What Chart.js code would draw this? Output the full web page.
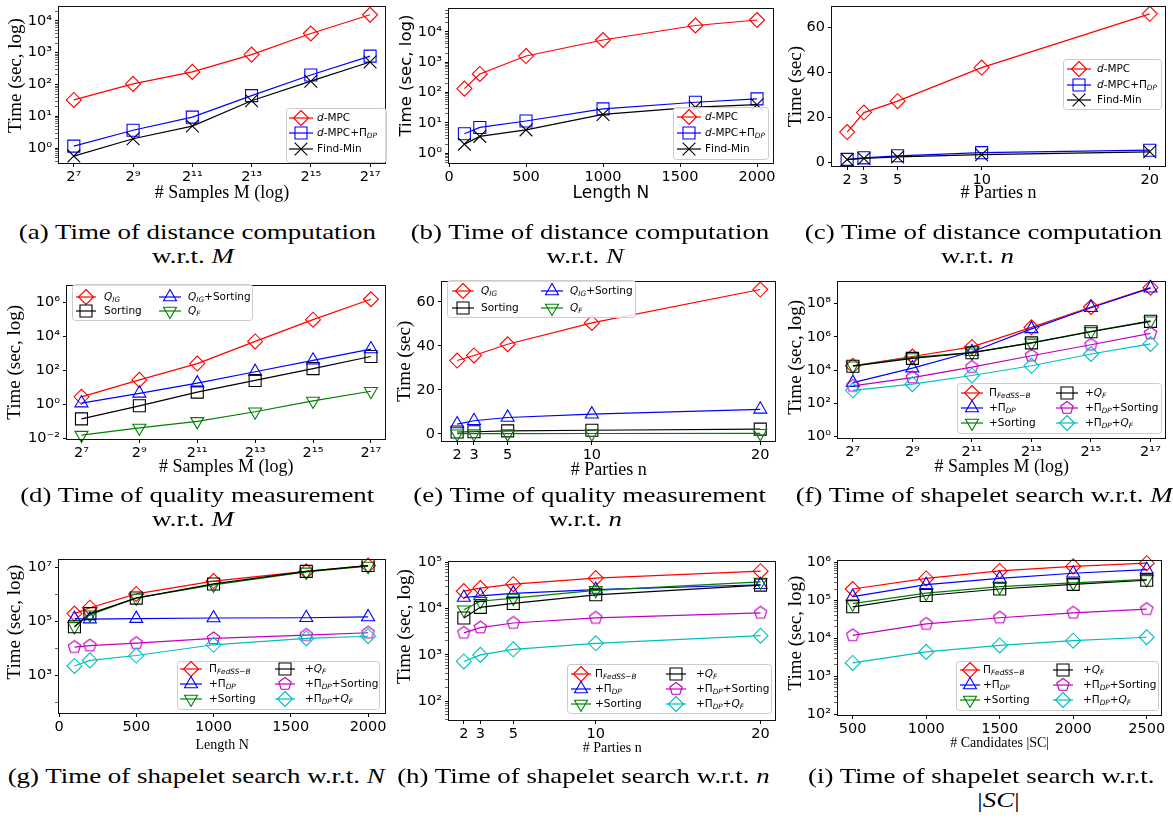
<!DOCTYPE html>
<html><head><meta charset="utf-8">
<script src="https://cdn.jsdelivr.net/npm/chart.js@4.4.1/dist/chart.umd.min.js"></script>
<style>
html,body{margin:0;padding:0;background:#fff}
body{width:1173px;height:825px;position:relative;overflow:hidden}
canvas{position:absolute}
.cap{position:absolute;font-family:"Liberation Serif","Times New Roman",serif;font-size:21px;line-height:24px;white-space:nowrap;color:#000}
</style></head><body>
<script>
// ---------------- data ----------------
const samplesM = [128, 512, 2048, 8192, 32768, 131072];
const samplesMTickLabels = ['2⁷','2⁹','2¹¹','2¹³','2¹⁵','2¹⁷'];
const lengthN = [100, 200, 500, 1000, 1600, 2000];
const lengthTicks = [0, 500, 1000, 1500, 2000];
const partiesN = [2, 3, 5, 10, 20];
const candidatesSC = [500, 1000, 1500, 2000, 2500];

const distSeries = ['$d$-MPC', '$d$-MPC+Π$_{DP}$', 'Find-Min'];
const qualSeries = ['$Q_{IG}$', 'Sorting', '$Q_{IG}$+Sorting', '$Q_F$'];
const searchSeries = ['Π$_{FedSS−B}$', '+Π$_{DP}$', '+Sorting', '+$Q_F$', '+Π$_{DP}$+Sorting', '+Π$_{DP}$+$Q_F$'];

// (a) distance computation vs M
const aDMPC    = [33, 105, 250, 870, 4000, 15500];
const aDMPCDP  = [1.17, 3.7, 9.5, 45, 200, 780];
const aFindMin = [0.57, 2.0, 5.0, 31, 128, 510];
// (b) distance computation vs N
const bDMPC    = [135, 410, 1600, 5400, 16200, 24600];
const bDMPCDP  = [4.4, 7.1, 11.6, 29, 48, 62];
const bFindMin = [2.0, 3.6, 5.9, 19, 33, 40];
// (c) distance computation vs n
const cDMPC    = [13.4, 22.1, 27.2, 42.2, 66.2];
const cDMPCDP  = [1.2, 1.9, 2.8, 4.2, 5.3];
const cFindMin = [1.1, 1.6, 2.3, 3.3, 4.6];
// (d) quality measurement vs M
const dQIG     = [2.8, 28, 257, 5200, 100000, 1600000];
const dSorting = [0.14, 0.83, 5.3, 26, 130, 670];
const dQIGSort = [1.2, 4.5, 18, 85, 400, 1850];
const dQF      = [0.0155, 0.041, 0.1, 0.37, 1.6, 6.0];
// (e) quality measurement vs n
const eQIG     = [33.3, 35.6, 40.7, 50.4, 65.6];
const eSorting = [0.8, 0.9, 1.3, 1.6, 2.1];
const eQIGSort = [4.4, 5.9, 7.4, 8.9, 11.1];
const eQF      = [0.03, 0.04, 0.05, 0.1, 0.2];
// (f) shapelet search vs M
const fFed     = [18000, 65000, 245000, 3.7e6, 6.2e7, 9.0e8];
const fDP      = [1750, 13000, 126000, 3.0e6, 5.6e7, 8.4e8];
const fSort    = [18000, 57000, 110000, 430000, 2.1e6, 9.2e6];
const fQF      = [17000, 50000, 110000, 430000, 2.0e6, 8.5e6];
const fDPSort  = [1100, 3500, 15000, 72000, 330000, 1.6e6];
const fDPQF    = [600, 1400, 4700, 18000, 92000, 370000];
// (g) shapelet search vs N
const gFed     = [2.0e5, 3.3e5, 1.07e6, 3.2e6, 7.3e6, 1.2e7];
const gDP      = [1.3e5, 1.25e5, 1.3e5, 1.37e5, 1.4e5, 1.5e5];
const gSort    = [6.7e4, 1.8e5, 7.6e5, 2.3e6, 7.0e6, 1.15e7];
const gQF      = [6.5e4, 2.0e5, 7.5e5, 2.5e6, 7.3e6, 1.2e7];
const gDPSort  = [1.15e4, 1.3e4, 1.6e4, 2.4e4, 3.2e4, 3.9e4];
const gDPQF    = [2300, 3700, 5600, 1.4e4, 2.4e4, 2.9e4];
// (h) shapelet search vs n
const hFed     = [2.4e4, 2.8e4, 3.4e4, 4.6e4, 6.5e4];
const hDP      = [1.75e4, 1.9e4, 2.15e4, 2.6e4, 3.3e4];
const hSort    = [9.5e3, 1.45e4, 1.7e4, 2.5e4, 3.8e4];
const hQF      = [6.3e3, 1.07e4, 1.3e4, 2.0e4, 3.25e4];
const hDPSort  = [3000, 3900, 4900, 6300, 8100];
const hDPQF    = [720, 1000, 1320, 1780, 2600];
// (i) shapelet search vs |SC|
const iFed     = [2.0e5, 3.8e5, 6.0e5, 7.9e5, 9.6e5];
const iDP      = [1.26e5, 2.6e5, 3.8e5, 5.2e5, 6.5e5];
const iSort    = [8.2e4, 1.55e5, 2.3e5, 2.9e5, 3.6e5];
const iQF      = [6.8e4, 1.35e5, 2.0e5, 2.65e5, 3.4e5];
const iDPSort  = [1.2e4, 2.4e4, 3.5e4, 4.7e4, 5.9e4];
const iDPQF    = [2250, 4400, 6500, 8700, 10700];

// tick values / labels
const logTicks0to4 = [1, 10, 100, 1000, 10000];
const logLabels0to4 = ['10⁰','10¹','10²','10³','10⁴'];
const linTicks60 = [0, 20, 40, 60];
const logTicksD = [0.01, 1, 100, 1e4, 1e6];
const logLabelsD = ['10⁻²','10⁰','10²','10⁴','10⁶'];
const logTicksF = [1, 100, 1e4, 1e6, 1e8];
const logLabelsF = ['10⁰','10²','10⁴','10⁶','10⁸'];
const logTicksG = [1e3, 1e5, 1e7];
const logLabelsG = ['10³','10⁵','10⁷'];
const logTicksH = [100, 1000, 1e4, 1e5];
const logLabelsH = ['10²','10³','10⁴','10⁵'];
const logTicksI = [100, 1000, 1e4, 1e5, 1e6];
const logLabelsI = ['10²','10³','10⁴','10⁵','10⁶'];

// ---------------- styles ----------------
const distStyle = [{c:'#ff0000',m:'rectRot'},{c:'#0000ff',m:'rect'},{c:'#000000',m:'crossRot'}];
const qualStyle = [{c:'#ff0000',m:'rectRot'},{c:'#000000',m:'rect'},{c:'#0000ff',m:'triangle'},{c:'#008000',m:'triDown'}];
const searchStyle = [{c:'#ff0000',m:'rectRot'},{c:'#0000ff',m:'triangle'},{c:'#008000',m:'triDown'},{c:'#000000',m:'rect'},{c:'#bf00bf',m:'pentagon'},{c:'#00bfbf',m:'rectRot'}];
const R = {rectRot:7.5, rect:8.5, crossRot:9, triangle:7.5, triDown:7.5, pentagon:6.5};
const SERIF = '"Liberation Serif","Times New Roman",serif';
const SANS = '"DejaVu Sans",sans-serif';
Chart.defaults.font.family = SANS;

function plain(s){ return s.replace(/\$/g,'').replace(/_\{([^}]*)\}/g,'$1').replace(/_(.)/g,'$1'); }
function pentagonImg(color, r){
  const s = Math.ceil(2*r+4); const cv = document.createElement('canvas'); cv.width=s; cv.height=s;
  const c = cv.getContext('2d'); c.strokeStyle=color; c.lineWidth=1.1; c.beginPath();
  for(let k=0;k<5;k++){ const a=-Math.PI/2+k*2*Math.PI/5; const px=s/2+r*Math.cos(a), py=s/2+r*Math.sin(a); if(k) c.lineTo(px,py); else c.moveTo(px,py);} 
  c.closePath(); c.stroke(); return cv;
}
function drawMarker(c, m, color, x, y){
  const r = R[m]; c.save(); c.strokeStyle=color; c.lineWidth=1.1; c.beginPath();
  if(m==='rectRot'){ c.moveTo(x,y-r); c.lineTo(x+r,y); c.lineTo(x,y+r); c.lineTo(x-r,y); c.closePath(); }
  else if(m==='rect'){ const h=r*Math.SQRT1_2; c.rect(x-h,y-h,2*h,2*h); }
  else if(m==='crossRot'){ const h=r*Math.SQRT1_2; c.moveTo(x-h,y-h); c.lineTo(x+h,y+h); c.moveTo(x-h,y+h); c.lineTo(x+h,y-h); }
  else if(m==='triangle'||m==='triDown'){ const rot=m==='triDown'?Math.PI:0; for(let k=0;k<3;k++){ const a=rot+k*2*Math.PI/3; const px=x+Math.sin(a)*r, py=y-Math.cos(a)*r; if(k) c.lineTo(px,py); else c.moveTo(px,py);} c.closePath(); }
  else if(m==='pentagon'){ for(let k=0;k<5;k++){ const a=-Math.PI/2+k*2*Math.PI/5; const px=x+r*Math.cos(a), py=y+r*Math.sin(a); if(k) c.lineTo(px,py); else c.moveTo(px,py);} c.closePath(); }
  c.stroke(); c.restore();
}
function parseRich(s){
  const segs=[]; let math=false; let i=0;
  while(i<s.length){
    const ch=s[i];
    if(ch==='$'){ math=!math; i++; continue; }
    if(math && ch==='_'){
      let t; if(s[i+1]==='{'){ const j=s.indexOf('}',i); t=s.slice(i+2,j); i=j+1; } else { t=s[i+1]; i+=2; }
      segs.push({t, sub:true, it:true}); continue;
    }
    segs.push({t:ch, sub:false, it: math && /[A-Za-z]/.test(ch)}); i++;
  }
  return segs;
}
function drawRich(c, s, x, y, size){
  c.save(); c.textBaseline='middle'; c.textAlign='left'; c.fillStyle='#000';
  for(const g of parseRich(s)){
    const sz = g.sub ? size*0.7 : size;
    c.font = (g.it?'italic ':'') + sz + 'px ' + SANS;
    c.fillText(g.t, x, y + (g.sub ? size*0.3 : 0));
    x += c.measureText(g.t).width;
  }
  c.restore();
}
function mkDs(labels, styles, xs, series){
  return series.map((arr,i)=>{
    const st = styles[i];
    const d = {label: plain(labels[i]), data: xs.map((x,j)=>({x:x, y:arr[j]})),
      borderColor: st.c, backgroundColor: st.c, borderWidth: 1.2,
      pointBackgroundColor:'rgba(0,0,0,0)', pointBorderColor: st.c, pointBorderWidth: 1.1,
      pointRadius: R[st.m], pointHoverRadius: R[st.m], tension:0, clip:false, fill:false,
      order: series.length - i, _m: st.m};
    if(st.m==='triDown'){ d.pointStyle='triangle'; d.pointRotation=180; }
    else if(st.m==='pentagon'){ d.pointStyle = pentagonImg(st.c, R.pentagon); }
    else d.pointStyle = st.m;
    return d;
  });
}
function minorTicks(min, max){
  const out=[]; for(let d=Math.floor(Math.log10(min)); d<=Math.ceil(Math.log10(max)); d++){ for(let k=2;k<=9;k++){ const v=k*Math.pow(10,d); if(v>min && v<max) out.push(v);} }
  return out;
}
const framePlugin = {id:'frame', afterDatasetsDraw(chart){
  const a=chart.chartArea, c=chart.ctx; c.save(); c.strokeStyle='#111'; c.lineWidth=1;
  const l=Math.round(a.left)-0.5, t=Math.round(a.top)-0.5, r=Math.round(a.right)+0.5, b=Math.round(a.bottom)+0.5;
  c.strokeRect(l,t,r-l,b-t); c.restore(); }};
function legendPlugin(lg, labels, ox, oy){
  return {id:'mplLegend', afterDraw(chart){
    const c=chart.ctx; c.save();
    const [x0,y0,x1,y1]=lg.box;
    c.beginPath(); c.roundRect(x0-ox+0.5, y0-oy+0.5, x1-x0, y1-y0, 3);
    c.fillStyle='rgba(255,255,255,0.85)'; c.fill(); c.strokeStyle='#cccccc'; c.lineWidth=1; c.stroke();
    const nrow = lg.rows.length;
    chart.data.datasets.forEach((d,i)=>{
      const col = lg.cols[Math.floor(i/nrow)], y = lg.rows[i%nrow]-oy;
      c.strokeStyle=d.borderColor; c.lineWidth=d.borderWidth;
      c.beginPath(); c.moveTo(col[0]-ox, y); c.lineTo(col[1]-ox, y); c.stroke();
      drawMarker(c, d._m, d.borderColor, (col[0]+col[1])/2-ox, y);
      drawRich(c, labels[i], col[2]-ox, y, 10.5);
    });
    c.restore();
  }};
}
function labelFor(vals, labels, v){
  for(let k=0;k<vals.length;k++){ if(Math.abs(vals[k]-v) <= 1e-9*Math.max(1,Math.abs(v))) return labels[k]; }
  return '';
}
function panel(p){
  const left=p.col, top=p.plot[1]-6, right=p.plot[2]+8, bottom=p.plot[3]+50;
  const cv=document.createElement('canvas'); cv.width=right-left; cv.height=bottom-top;
  cv.style.left=left+'px'; cv.style.top=top+'px'; cv.style.width=cv.width+'px'; cv.style.height=cv.height+'px';
  document.body.appendChild(cv);
  const yW=p.plot[0]-left, xH=bottom-p.plot[3];
  const yLH=p.yFont.size*1.2, xLH=p.xFont.size*1.2;
  const yTickList = p.yTicks.concat(p.yMinor ? p.yMinor : []);
  const tickFont = {family:SANS, size:14.5};
  const grid = {display:true, drawOnChartArea:false, drawTicks:true, tickLength:4, color:'#000', tickColor:'#000',
    tickWidth: (ctx)=> (ctx.tick && ctx.tick.minor) ? 0.6 : 1};
  new Chart(cv, {
    type:'line',
    data:{datasets:p.datasets},
    options:{
      responsive:false, animation:false, devicePixelRatio:1, events:[],
      layout:{padding:{left:0, top:6, right:8, bottom:0}},
      plugins:{legend:{display:false}, tooltip:{enabled:false}},
      scales:{
        x:{type:p.xType, min:p.xMin, max:p.xMax, bounds:'data', position:'bottom',
          afterBuildTicks:(s)=>{ s.ticks = p.xTicks.map(v=>({value:v})); },
          afterFit:(s)=>{ s.height=xH; s.paddingLeft=0; s.paddingRight=0; },
          ticks:{autoSkip:false, maxRotation:0, minRotation:0, padding:2, color:'#000', font:tickFont,
            callback:(v)=>labelFor(p.xTicks, p.xLabels, v)},
          grid:grid, border:{display:false},
          title:{display:true, text:p.xTitle, color:'#000', font:Object.assign({lineHeight:1.2}, p.xFont),
            padding:{top:0, bottom: bottom - p.xTitleY - xLH/2}}
        },
        y:{type:p.yType, min:p.yMin, max:p.yMax, bounds:'data', position:'left',
          afterBuildTicks:(s)=>{ s.ticks = yTickList.map((v,k)=>({value:v, minor: k>=p.yTicks.length})); },
          afterFit:(s)=>{ s.width=yW; s.paddingTop=0; s.paddingBottom=0; },
          ticks:{autoSkip:false, padding:3, color:'#000', font:tickFont,
            callback:(v)=>labelFor(p.yTicks, p.yLabels, v)},
          grid:grid, border:{display:false},
          title:{display:true, text:p.yTitle, color:'#000', font:Object.assign({lineHeight:1.2}, p.yFont),
            padding:{top: p.yTitleX - left - yLH/2, bottom:0}}
        }
      }
    },
    plugins:[framePlugin, legendPlugin(p.legend, p.labels, left, top)]
  });
}
const serif19 = {family:SERIF, size:19};
const serif18 = {family:SERIF, size:18};
const serif14 = {family:SERIF, size:14};
const p10 = (a,b)=>Math.pow(a,b);

// (a)
panel({col:0, plot:[59,3,387,163], datasets: mkDs(distSeries, distStyle, samplesM, [aDMPC,aDMPCDP,aFindMin]), labels:distSeries,
  xType:'logarithmic', xMin:p10(2,6.5), xMax:p10(2,17.5), xTicks:samplesM, xLabels:samplesMTickLabels,
  yType:'logarithmic', yMin:p10(10,-0.46), yMax:p10(10,4.43), yTicks:logTicks0to4, yLabels:logLabels0to4, yMinor:minorTicks(p10(10,-0.46),p10(10,4.43)),
  xTitle:'# Samples M (log)', xFont:serif18, xTitleY:193, yTitle:'    Time (sec, log)', yFont:serif19, yTitleX:16,
  legend:{box:[286,108,386,162], rows:[118,133,149], cols:[[289,313,317]]}});
// (b)
panel({col:390, plot:[449,5,775,163], datasets: mkDs(distSeries, distStyle, lengthN, [bDMPC,bDMPCDP,bFindMin]), labels:distSeries,
  xType:'linear', xMin:0, xMax:2103, xTicks:lengthTicks, xLabels:lengthTicks.map(String),
  yType:'logarithmic', yMin:p10(10,-0.32), yMax:p10(10,4.75), yTicks:logTicks0to4, yLabels:logLabels0to4, yMinor:minorTicks(p10(10,-0.32),p10(10,4.75)),
  xTitle:'Length N', xFont:{family:SANS, size:17}, xTitleY:194, yTitle:'    Time (sec, log)', yFont:{family:SANS, size:16.5}, yTitleX:407,
  legend:{box:[673,107,768,159], rows:[117,133,149], cols:[[677,701,705]]}});
// (c)
panel({col:780, plot:[832,3,1167,166], datasets: mkDs(distSeries, distStyle, partiesN, [cDMPC,cDMPCDP,cFindMin]), labels:distSeries,
  xType:'linear', xMin:1.1, xMax:20.9, xTicks:partiesN, xLabels:partiesN.map(String),
  yType:'linear', yMin:-1.75, yMax:69.2, yTicks:linTicks60, yLabels:linTicks60.map(String),
  xTitle:'# Parties n', xFont:serif18, xTitleY:193, yTitle:'Time (sec)', yFont:serif19, yTitleX:796,
  legend:{box:[1063,59,1161,109], rows:[69,85,100], cols:[[1067,1091,1097]]}});
// (d)
panel({col:0, plot:[67,282,387,439], datasets: mkDs(qualSeries, qualStyle, samplesM, [dQIG,dSorting,dQIGSort,dQF]), labels:qualSeries,
  xType:'logarithmic', xMin:p10(2,6.5), xMax:p10(2,17.5), xTicks:samplesM, xLabels:samplesMTickLabels,
  yType:'logarithmic', yMin:p10(10,-2.04), yMax:p10(10,7.01), yTicks:logTicksD, yLabels:logLabelsD,
  xTitle:'# Samples M (log)', xFont:serif18, xTitleY:467, yTitle:'Time (sec, log)', yFont:serif19, yTitleX:15,
  legend:{box:[72,284,252,320], rows:[297,311], cols:[[76,96,104],[159,181,188]]}});
// (e)
panel({col:390, plot:[442,278,777,441], datasets: mkDs(qualSeries, qualStyle, partiesN, [eQIG,eSorting,eQIGSort,eQF]), labels:qualSeries,
  xType:'linear', xMin:1.1, xMax:20.9, xTicks:partiesN, xLabels:partiesN.map(String),
  yType:'linear', yMin:-3.3, yMax:69.2, yTicks:linTicks60, yLabels:linTicks60.map(String),
  xTitle:'# Parties n', xFont:serif18, xTitleY:470, yTitle:'Time (sec)', yFont:serif19, yTitleX:405,
  legend:{box:[447,280,635,317], rows:[291,308], cols:[[452,474,481],[541,563,570]]}});
// (f)
panel({col:780, plot:[838,278,1167,438], datasets: mkDs(searchSeries, searchStyle, samplesM, [fFed,fDP,fSort,fQF,fDPSort,fDPQF]), labels:searchSeries,
  xType:'logarithmic', xMin:p10(2,6.5), xMax:p10(2,17.5), xTicks:samplesM, xLabels:samplesMTickLabels,
  yType:'logarithmic', yMin:p10(10,-0.09), yMax:p10(10,9.32), yTicks:logTicksF, yLabels:logLabelsF,
  xTitle:'# Samples M (log)', xFont:serif18, xTitleY:467, yTitle:' Time (sec, log)', yFont:serif19, yTitleX:796,
  legend:{box:[957,383,1161,433], rows:[393,408,423], cols:[[961,983,989],[1056,1078,1085]]}});
// (g)
panel({col:0, plot:[59,556,387,713], datasets: mkDs(searchSeries, searchStyle, lengthN, [gFed,gDP,gSort,gQF,gDPSort,gDPQF]), labels:searchSeries,
  xType:'linear', xMin:0, xMax:2112, xTicks:lengthTicks, xLabels:lengthTicks.map(String),
  yType:'logarithmic', yMin:p10(10,1.62), yMax:p10(10,7.3), yTicks:logTicksG, yLabels:logLabelsG, yMinor:[100,1e4,1e6],
  xTitle:'Length N', xFont:serif14, xTitleY:745, yTitle:'      Time (sec, log)', yFont:serif19, yTitleX:15,
  legend:{box:[177,661,379,709], rows:[669,684,699], cols:[[180,202,209],[275,295,305]]}});
// (h)
panel({col:390, plot:[449,558,777,720], datasets: mkDs(searchSeries, searchStyle, partiesN, [hFed,hDP,hSort,hQF,hDPSort,hDPQF]), labels:searchSeries,
  xType:'linear', xMin:1.1, xMax:20.9, xTicks:partiesN, xLabels:partiesN.map(String),
  yType:'logarithmic', yMin:p10(10,1.59), yMax:p10(10,5.02), yTicks:logTicksH, yLabels:logLabelsH, yMinor:minorTicks(p10(10,1.59),p10(10,5.02)),
  xTitle:'# Parties n', xFont:serif14, xTitleY:748, yTitle:'      Time (sec, log)', yFont:serif19, yTitleX:405,
  legend:{box:[567,664,771,713], rows:[674,689,704], cols:[[571,591,595],[666,686,696]]}});
// (i)
panel({col:780, plot:[838,557,1163,715], datasets: mkDs(searchSeries, searchStyle, candidatesSC, [iFed,iDP,iSort,iQF,iDPSort,iDPQF]), labels:searchSeries,
  xType:'linear', xMin:400, xMax:2600, xTicks:candidatesSC, xLabels:candidatesSC.map(String),
  yType:'logarithmic', yMin:p10(10,1.98), yMax:p10(10,6.05), yTicks:logTicksI, yLabels:logLabelsI, yMinor:minorTicks(p10(10,1.98),p10(10,6.05)),
  xTitle:'# Candidates |SC|', xFont:serif14, xTitleY:743, yTitle:'  Time (sec, log)', yFont:serif19, yTitleX:796,
  legend:{box:[956,661,1158,710], rows:[670,685,700], cols:[[960,980,983],[1053,1073,1083]]}});

// ---------------- captions ----------------
const captions = [
  {t:'(a) Time of distance computation', x:197, y:232},
  {t:'w.r.t. <i>M</i>', x:193, y:256},
  {t:'(b) Time of distance computation', x:590, y:232},
  {t:'w.r.t. <i>N</i>', x:585, y:256},
  {t:'(c) Time of distance computation', x:983, y:232},
  {t:'w.r.t. <i>n</i>', x:977, y:256},
  {t:'(d) Time of quality measurement', x:197, y:495},
  {t:'w.r.t. <i>M</i>', x:193, y:519},
  {t:'(e) Time of quality measurement', x:590, y:495},
  {t:'w.r.t. <i>n</i>', x:585, y:519},
  {t:'(f) Time of shapelet search w.r.t. <i>M</i>', x:984, y:495},
  {t:'(g) Time of shapelet search w.r.t. <i>N</i>', x:196, y:776},
  {t:'(h) Time of shapelet search w.r.t. <i>n</i>', x:583, y:776},
  {t:'(i) Time of shapelet search w.r.t.', x:981, y:776},
  {t:'|<i>SC</i>|', x:998, y:800}
];
const els = captions.map(cp=>{ const d=document.createElement('div'); d.className='cap'; d.innerHTML=cp.t; document.body.appendChild(d); return d; });
const k = 357 / els[0].getBoundingClientRect().width;
els.forEach((d,i)=>{ const cp=captions[i]; const w=d.getBoundingClientRect().width;
  d.style.left=(cp.x - w/2)+'px'; d.style.top=(cp.y-12)+'px'; d.style.transformOrigin='50% 50%'; d.style.transform='scaleX('+k.toFixed(3)+')'; });
</script>
</body></html>
